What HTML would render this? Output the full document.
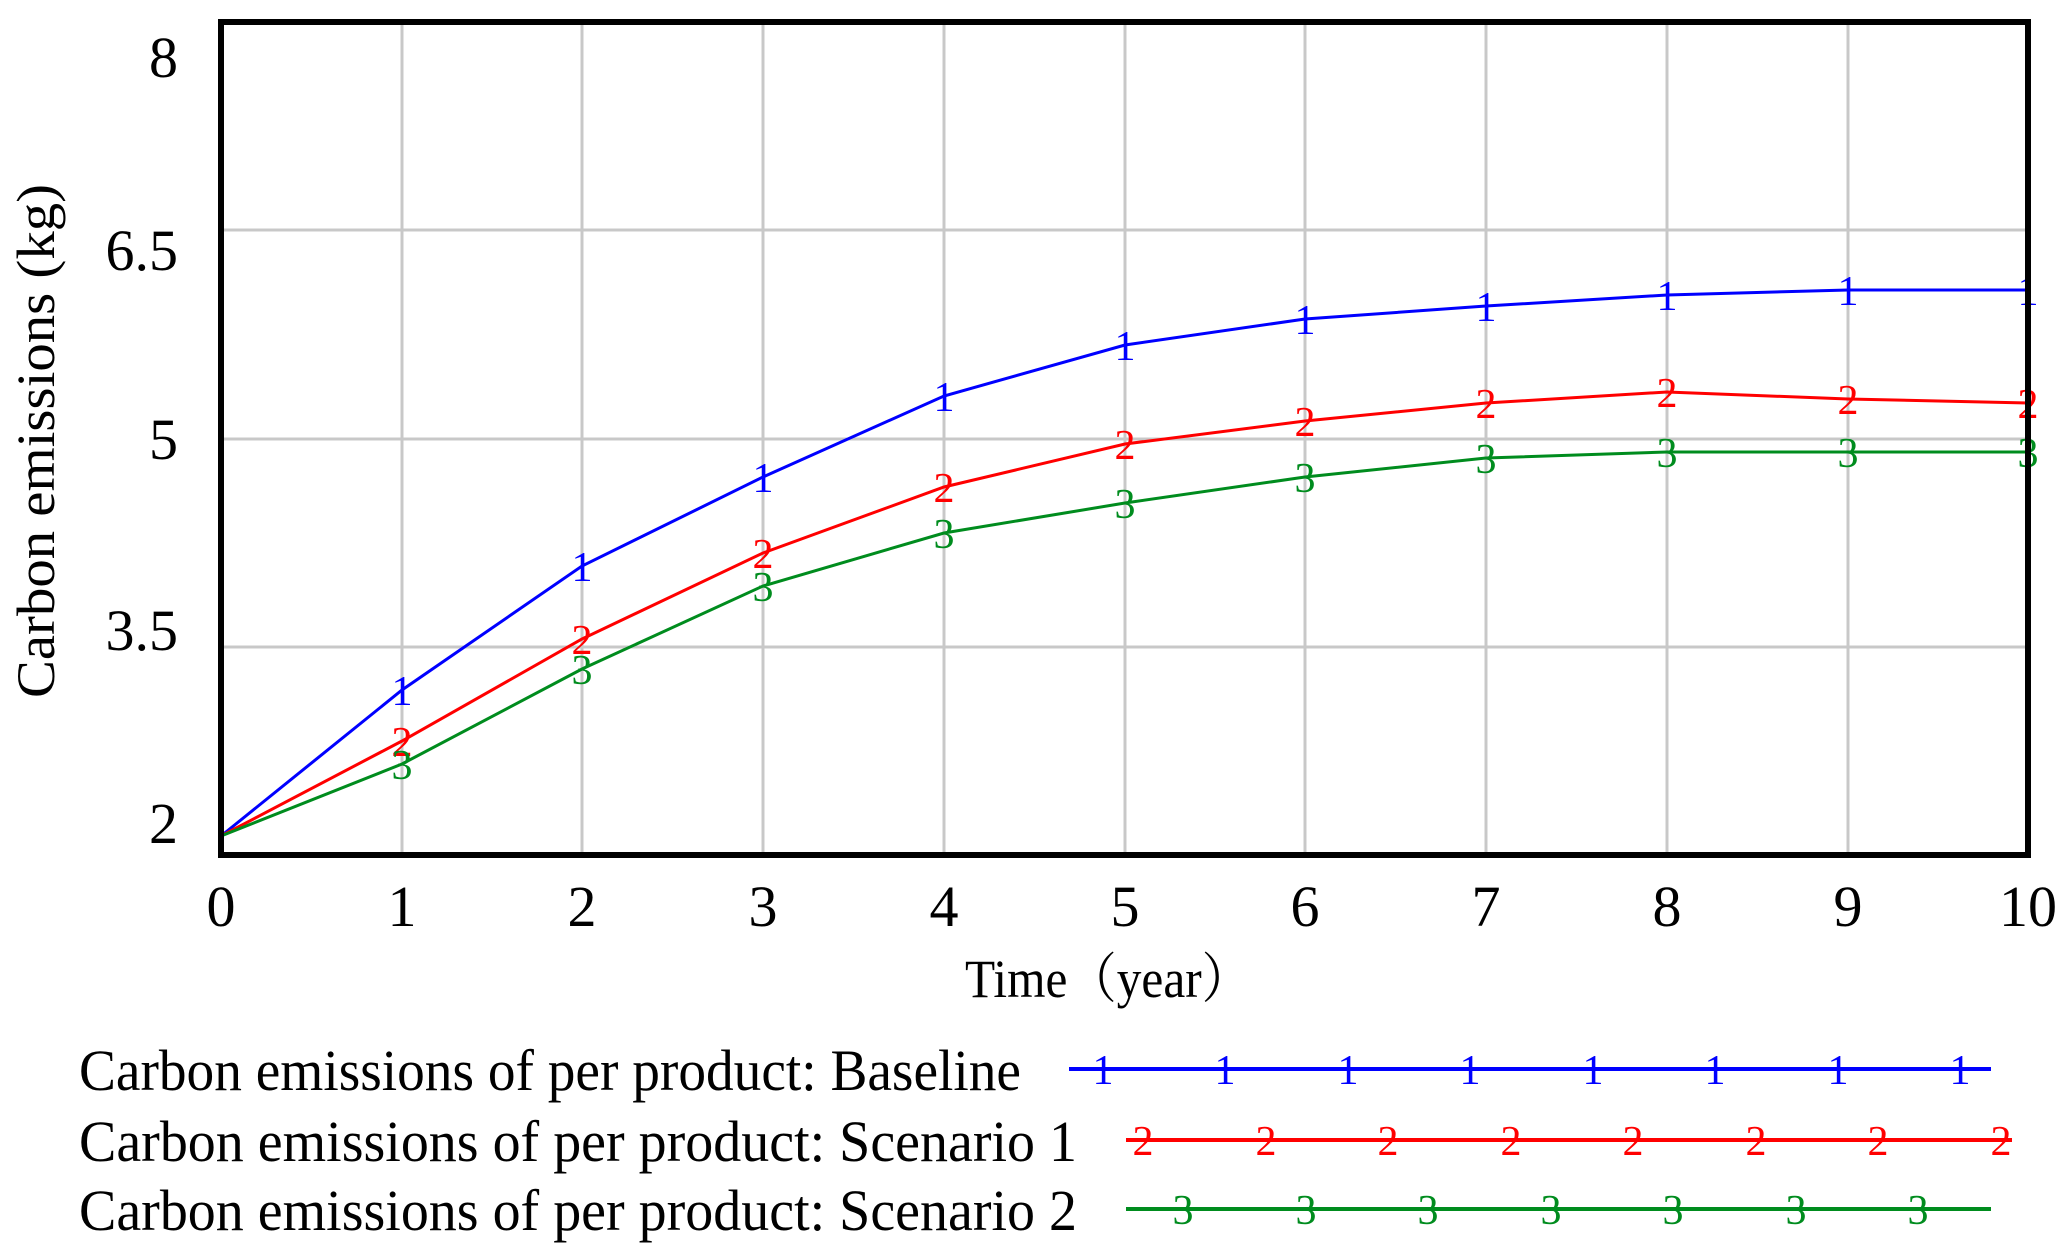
<!DOCTYPE html>
<html><head><meta charset="utf-8"><style>
html,body{margin:0;padding:0;background:#fff;}
svg{display:block;}
text{font-family:"Liberation Serif","Noto Serif CJK SC",serif;}
.m{font-family:"Liberation Sans",sans-serif;font-size:42px;text-anchor:middle;}
</style></head><body>
<svg width="2065" height="1254" viewBox="0 0 2065 1254" xmlns="http://www.w3.org/2000/svg">
<rect width="2065" height="1254" fill="#fff"/>
<g stroke="#c8c8c8" stroke-width="3">
<line x1="402" y1="22" x2="402" y2="855"/><line x1="582" y1="22" x2="582" y2="855"/>
<line x1="763" y1="22" x2="763" y2="855"/><line x1="944" y1="22" x2="944" y2="855"/>
<line x1="1125" y1="22" x2="1125" y2="855"/><line x1="1305" y1="22" x2="1305" y2="855"/>
<line x1="1486" y1="22" x2="1486" y2="855"/><line x1="1667" y1="22" x2="1667" y2="855"/>
<line x1="1848" y1="22" x2="1848" y2="855"/>
<line x1="221" y1="230" x2="2028" y2="230"/><line x1="221" y1="439" x2="2028" y2="439"/>
<line x1="221" y1="647" x2="2028" y2="647"/>
</g>
<polyline fill="none" stroke="#0000ff" stroke-width="3" points="221,836 402,690 582,566 763,477 944,396 1125,345 1305,319 1486,306 1667,295 1848,290 2028,290"/>
<polyline fill="none" stroke="#ff0000" stroke-width="3" points="221,836 402,741 582,639 763,553 944,487 1125,444 1305,421 1486,403 1667,392 1848,399 2028,403"/>
<polyline fill="none" stroke="#008c1e" stroke-width="3" points="221,836 402,764 582,669 763,586 944,533 1125,503 1305,477 1486,458 1667,452 1848,452 2028,452"/>
<g class="m" fill="#0000ff">
<text x="402" y="705">1</text><text x="582" y="581">1</text><text x="763" y="492">1</text><text x="944" y="411">1</text><text x="1125" y="360">1</text><text x="1305" y="334">1</text><text x="1486" y="321">1</text><text x="1667" y="310">1</text><text x="1848" y="305">1</text><text x="2028" y="305">1</text>
</g>
<g class="m" fill="#ff0000">
<text x="402" y="756">2</text><text x="582" y="654">2</text><text x="763" y="568">2</text><text x="944" y="502">2</text><text x="1125" y="459">2</text><text x="1305" y="436">2</text><text x="1486" y="418">2</text><text x="1667" y="407">2</text><text x="1848" y="414">2</text><text x="2028" y="418">2</text>
</g>
<g class="m" fill="#008c1e">
<text x="402" y="779">3</text><text x="582" y="684">3</text><text x="763" y="601">3</text><text x="944" y="548">3</text><text x="1125" y="518">3</text><text x="1305" y="492">3</text><text x="1486" y="473">3</text><text x="1667" y="467">3</text><text x="1848" y="467">3</text><text x="2028" y="467">3</text>
</g>
<rect x="221" y="22" width="1807" height="833" fill="none" stroke="#000" stroke-width="6"/>
<g font-size="58" text-anchor="end" fill="#000">
<text x="178" y="77">8</text><text x="178" y="270">6.5</text><text x="178" y="459">5</text><text x="178" y="650">3.5</text><text x="178" y="843">2</text>
</g>
<g font-size="58" text-anchor="middle" fill="#000">
<text x="221" y="926">0</text><text x="402" y="926">1</text><text x="582" y="926">2</text><text x="763" y="926">3</text><text x="944" y="926">4</text><text x="1125" y="926">5</text><text x="1305" y="926">6</text><text x="1486" y="926">7</text><text x="1667" y="926">8</text><text x="1848" y="926">9</text><text x="2028" y="926">10</text>
</g>
<text x="965" y="997" font-size="54" textLength="286" lengthAdjust="spacingAndGlyphs">Time（year）</text>
<text transform="translate(54,698) rotate(-90)" font-size="54" textLength="514" lengthAdjust="spacingAndGlyphs">Carbon emissions (kg)</text>
<g font-size="58" fill="#000">
<text x="79" y="1090" textLength="942" lengthAdjust="spacingAndGlyphs">Carbon emissions of per product: Baseline</text>
<text x="79" y="1161" textLength="998" lengthAdjust="spacingAndGlyphs">Carbon emissions of per product: Scenario 1</text>
<text x="79" y="1230" textLength="998" lengthAdjust="spacingAndGlyphs">Carbon emissions of per product: Scenario 2</text>
</g>
<line x1="1069" y1="1069" x2="1991" y2="1069" stroke="#0000ff" stroke-width="4"/>
<line x1="1126" y1="1140" x2="2012" y2="1140" stroke="#ff0000" stroke-width="4"/>
<line x1="1126" y1="1209" x2="1991" y2="1209" stroke="#008c1e" stroke-width="4"/>
<g class="m" fill="#0000ff">
<text x="1103" y="1084">1</text><text x="1225" y="1084">1</text><text x="1348" y="1084">1</text><text x="1470" y="1084">1</text><text x="1593" y="1084">1</text><text x="1715" y="1084">1</text><text x="1838" y="1084">1</text><text x="1960" y="1084">1</text>
</g>
<g class="m" fill="#ff0000">
<text x="1143" y="1155">2</text><text x="1266" y="1155">2</text><text x="1388" y="1155">2</text><text x="1511" y="1155">2</text><text x="1633" y="1155">2</text><text x="1756" y="1155">2</text><text x="1878" y="1155">2</text><text x="2001" y="1155">2</text>
</g>
<g class="m" fill="#008c1e">
<text x="1183" y="1224">3</text><text x="1306" y="1224">3</text><text x="1428" y="1224">3</text><text x="1551" y="1224">3</text><text x="1673" y="1224">3</text><text x="1796" y="1224">3</text><text x="1918" y="1224">3</text>
</g>
</svg>
</body></html>
